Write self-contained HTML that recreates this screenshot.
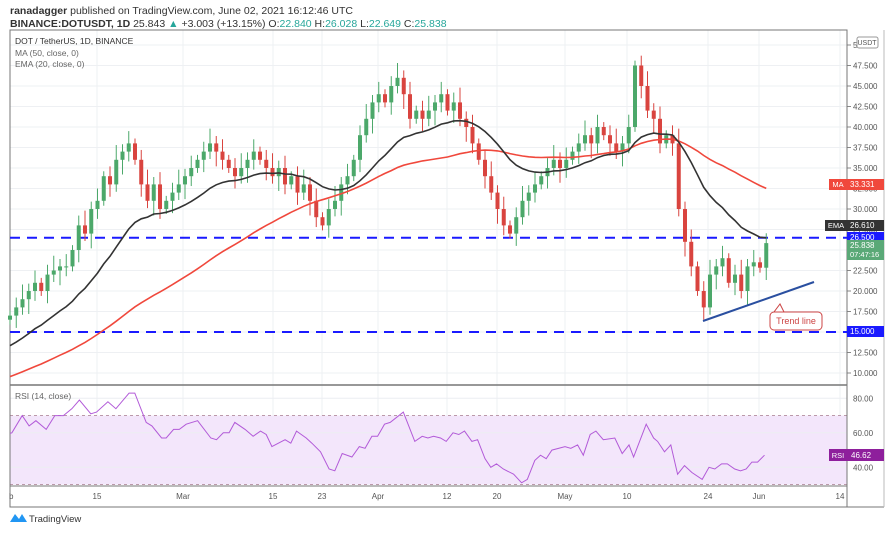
<!DOCTYPE html><html><head><meta charset="utf-8"><style>
body{margin:0;background:#fff;font-family:"Liberation Sans",sans-serif;}
svg text{font-family:"Liberation Sans",sans-serif;}
</style></head><body>
<svg id="s" width="896" height="532" xmlns="http://www.w3.org/2000/svg">
<text x="10" y="14" font-size="10.5" fill="#333"><tspan font-weight="bold">ranadagger</tspan> published on TradingView.com, June 02, 2021 16:12:46 UTC</text>
<text x="10" y="27" font-size="10.5" fill="#333"><tspan font-weight="bold">BINANCE:DOTUSDT, 1D</tspan> 25.843 <tspan fill="#26a69a">▲</tspan> +3.003 (+13.15%) O:<tspan fill="#26a69a">22.840</tspan> H:<tspan fill="#26a69a">26.028</tspan> L:<tspan fill="#26a69a">22.649</tspan> C:<tspan fill="#26a69a">25.838</tspan></text>
<defs><clipPath id="cp"><rect x="10" y="385" width="837" height="101"/></clipPath></defs>
<g id="g"></g>
</svg>
<script>
const g=document.getElementById('g');let h='';
const L=10,R=847,T=30,MB=385,RB=486,AB=507;
const xs=[97,183,273,322,378,447,497,565,627,708,759,840];
const xl=['15','Mar','15','23','Apr','12','20','May','10','24','Jun','14'];
xs.forEach(x=>{h+=`<line x1="${x}" y1="${T}" x2="${x}" y2="${RB}" stroke="#eef0f3"/>`});
const py=p=>45+(50-p)*8.2;
for(let p=10;p<=50;p+=2.5){const y=py(p);h+=`<line x1="${L}" y1="${y}" x2="${R}" y2="${y}" stroke="#eef0f3"/><line x1="${R}" y1="${y}" x2="${R+4}" y2="${y}" stroke="#888"/><text x="${R+6}" y="${y+3}" font-size="8" fill="#555">${p.toFixed(3)}</text>`}
const c=[17,18,19,20,21,20,22,22.5,23,23,25,28,27,30,31,34,33,36,37,38,36,33,31,33,30,31,32,33,
34,35,36,37,38,37,36,35,34,35,36,37,36,35,34,35,33,34,32,33,31,29,28,30,31,33,34,36,39,41,43,
44,43,45,46,44,41,42,41,42,43,44,42,43,41,40,38,36,34,32,30,28,27,29,31,32,33,34,35,36,35,
36,37,38,39,38,40,39,38,37,38,40,47.5,45,42,41,38,39,38,30,26,23,20,18,22,23,24,21,22,20,23,23.5,
22.84,25.84];
const pre=[];for(let i=0;i<60;i++)pre.push(1+i*0.24+Math.sin(i)*0.5);
const all=pre.concat(c),N=pre.length;
const dx=6.25,xi=i=>10+i*dx;
const ry=v=>398.3+(80-v)*1.725;
h+=`<rect x="${L}" y="${ry(70)}" width="${R-L}" height="${ry(30)-ry(70)}" fill="#f3e6fb"/>`;
h+=`<line x1="${L}" y1="${ry(70)}" x2="${R}" y2="${ry(70)}" stroke="#b9a" stroke-dasharray="3,3"/><line x1="${L}" y1="${ry(30)}" x2="${R}" y2="${ry(30)}" stroke="#b9a" stroke-dasharray="3,3"/>`;
[80,60,40].forEach(v=>{h+=`<line x1="${L}" y1="${ry(v)}" x2="${R}" y2="${ry(v)}" stroke="#eceef2"/><text x="${R+6}" y="${ry(v)+3}" font-size="8" fill="#555">${v.toFixed(2)}</text>`});
h+=`<rect x="${L}" y="${T}" width="${R-L}" height="${AB-T}" fill="none" stroke="#777"/>`;
h+=`<line x1="${L}" y1="${MB}" x2="${R}" y2="${MB}" stroke="#777" stroke-width="1.5"/><line x1="${L}" y1="${RB}" x2="${R}" y2="${RB}" stroke="#777"/>`;
h+=`<line x1="${R}" y1="${T}" x2="${R}" y2="${AB}" stroke="#777"/><line x1="${L}" y1="${AB}" x2="884" y2="${AB}" stroke="#777"/><line x1="884" y1="${T}" x2="884" y2="${AB}" stroke="#bbb"/>`;
xs.forEach((x,i)=>{h+=`<text x="${x}" y="499" font-size="8" fill="#555" text-anchor="middle">${xl[i]}</text>`});
h+=`<text x="9" y="499" font-size="8" fill="#555">b</text>`;
[26.5,15].forEach(p=>{h+=`<line x1="${L}" y1="${py(p)}" x2="${R}" y2="${py(p)}" stroke="#1a1aff" stroke-width="2" stroke-dasharray="10,7"/>`});
for(let i=0;i<c.length;i++){const cl=c[i],op=i?c[i-1]:16.5;const hi=Math.max(op,cl)+0.6+(i*7%5)*0.3,lo=Math.min(op,cl)-0.6-(i*3%5)*0.3;
const up=cl>=op,col=up?'#4ca86a':'#d9443f',x=xi(i);
h+=`<line x1="${x}" y1="${py(hi)}" x2="${x}" y2="${py(lo)}" stroke="${col}"/><rect x="${x-2}" y="${py(Math.max(op,cl))}" width="4" height="${Math.max(1,Math.abs(py(op)-py(cl)))}" fill="${col}"/>`}
let ma='',ema='',e=all[0];
for(let j=0;j<all.length;j++){e=j?e+(all[j]-e)*2/21:all[j];if(j>=N){const i=j-N;let s=0;for(let k=j-49;k<=j;k++)s+=all[k];const m=s/50;ma+=(i?'L':'M')+xi(i)+','+py(m).toFixed(1);ema+=(i?'L':'M')+xi(i)+','+py(e).toFixed(1);}}
h+=`<path d="${ma}" fill="none" stroke="#f0483c" stroke-width="1.6"/><path d="${ema}" fill="none" stroke="#333" stroke-width="1.6"/>`;
const R2=[0,58,20,60,38,70,50,64,62,67,80,62,95,70,110,70,125,74,138,79,158,71,168,72,188,78,202,74,225,83,235,83,255,66,265,64,282,57,290,57,303,62,313,62,325,65,345,67,368,57,378,56,390,60,400,60,410,66,428,62,442,58,455,61,465,59,475,52,498,56,508,54,518,61,535,57,545,54,560,49,575,39,585,38,598,48,615,46,628,52,638,51,650,58,660,58,672,65,682,66,705,72,725,55,738,58,748,57,758,58,770,57,780,55,792,60,802,59,812,61,825,55,835,56,848,45,858,40,868,42,880,39,898,36,912,31,922,33,935,44,945,47,955,45,965,50,988,52,998,51,1010,53,1020,47,1032,59,1042,61,1055,56,1075,57,1088,48,1100,53,1108,46,1130,65,1143,57,1150,55,1162,49,1173,53,1185,36,1197,41,1210,37,1228,33,1240,40,1250,39,1262,42,1272,42,1285,39,1295,38,1305,39,1315,43,1325,43,1337,47];
let rs='';for(let k=0;k<R2.length;k+=2){rs+=(k?'L':'M')+(R2[k]*0.5714+0.5).toFixed(1)+','+ry(R2[k+1]).toFixed(1);}
h+=`<path d="${rs}" fill="none" stroke="#b25ad8" stroke-width="1" clip-path="url(#cp)"/>`;
h+=`<line x1="703" y1="321" x2="814" y2="282" stroke="#2a4fa0" stroke-width="2"/>`;
h+=`<path d="M774,312 h44 a4,4 0 0 1 4,4 v10 a4,4 0 0 1 -4,4 h-44 a4,4 0 0 1 -4,-4 v-10 a4,4 0 0 1 4,-4 h10 l-4,-8 z" fill="#fff" stroke="#c44"/>`;
h+=`<text x="796" y="324" font-size="9" fill="#c44" text-anchor="middle">Trend line</text>`;
h+=`<text x="15" y="44" font-size="8.5" fill="#333">DOT / TetherUS, 1D, BINANCE</text><text x="15" y="56" font-size="8.5" fill="#666">MA (50, close, 0)</text><text x="15" y="67" font-size="8.5" fill="#666">EMA (20, close, 0)</text>`;
h+=`<text x="15" y="399" font-size="8.5" fill="#666">RSI (14, close)</text>`;
h+=`<rect x="857" y="37" width="21" height="11" fill="#fff" stroke="#999" rx="2"/><text x="867" y="45" font-size="7" fill="#555" text-anchor="middle">USDT</text>`;
h+=`<rect x="829" y="179" width="18" height="11" fill="#f0483c"/><text x="838" y="187" font-size="7.5" fill="#fff" text-anchor="middle">MA</text><rect x="847" y="179" width="37" height="11" fill="#f0483c"/><text x="850" y="187" font-size="8" fill="#fff">33.331</text>`;
h+=`<rect x="825" y="220" width="22" height="11" fill="#333"/><text x="836" y="228" font-size="7.5" fill="#fff" text-anchor="middle">EMA</text><rect x="847" y="220" width="37" height="11" fill="#333"/><text x="850" y="228" font-size="8" fill="#fff">26.610</text>`;
h+=`<rect x="847" y="232" width="37" height="11" fill="#1a1aff"/><text x="850" y="240" font-size="8" fill="#fff">26.500</text>`;
h+=`<rect x="847" y="240" width="37" height="20" fill="#5aa977"/><text x="850" y="248" font-size="8" fill="#fff">25.838</text><text x="850" y="257" font-size="7.5" fill="#fff">07:47:16</text>`;
h+=`<rect x="847" y="326" width="37" height="11" fill="#1a1aff"/><text x="850" y="334" font-size="8" fill="#fff">15.000</text>`;
h+=`<rect x="829" y="449" width="18" height="12" fill="#8e1f9c"/><text x="838" y="458" font-size="7.5" fill="#fff" text-anchor="middle">RSI</text><rect x="847" y="449" width="37" height="12" fill="#8e1f9c"/><text x="851" y="458" font-size="8" fill="#fff">46.62</text>`;
h+=`<path d="M10,522 l5,-8 l4,5 l3,-5 l5,8 z" fill="#2196f3"/><text x="29" y="522" font-size="9.5" fill="#333">TradingView</text>`;
g.innerHTML=h;
</script></body></html>
